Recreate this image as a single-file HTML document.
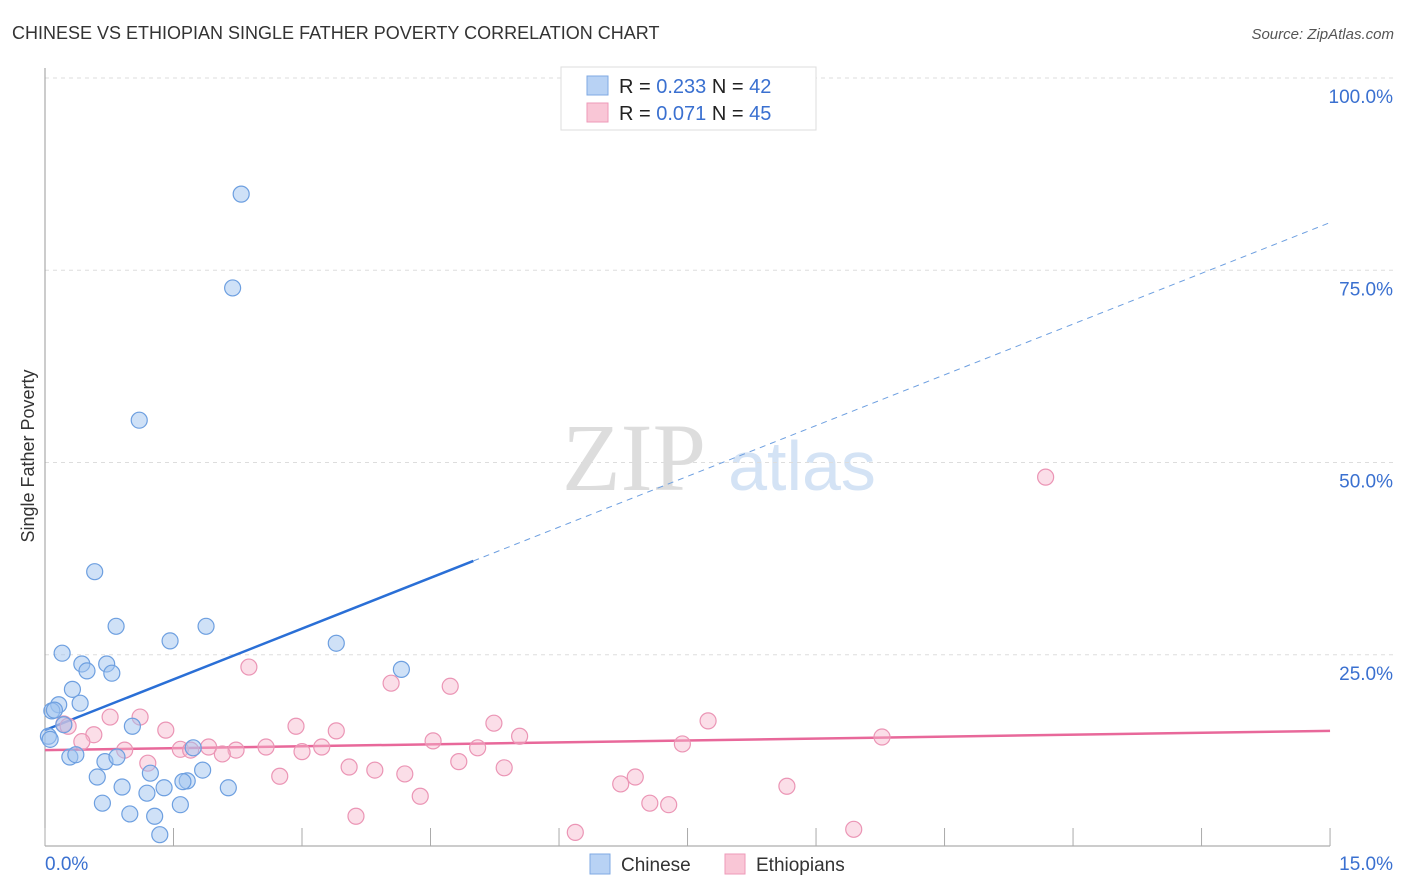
<!DOCTYPE html>
<html><head><meta charset="utf-8"><style>
body{margin:0;background:#fff;font-family:"Liberation Sans",sans-serif}
svg{display:block}
</style></head><body>
<svg id="chart" width="1406" height="892">
<text x="12" y="39" font-size="18" fill="#333">CHINESE VS ETHIOPIAN SINGLE FATHER POVERTY CORRELATION CHART</text>
<text x="1394" y="39" font-size="15" fill="#555" text-anchor="end" font-style="italic">Source: ZipAtlas.com</text>
<g>
<text x="634" y="490" font-size="96" fill="#ddd" font-family="Liberation Serif,serif" text-anchor="middle">ZIP</text>
<text x="802" y="490" font-size="70" fill="#d4e3f5" text-anchor="middle">atlas</text>
</g>
<text transform="translate(34,456) rotate(-90)" font-size="18" fill="#333" text-anchor="middle">Single Father Poverty</text>
<g id="grid"></g><g id="axes"></g><g id="lines"></g><g id="pts"></g>
<g>
<rect x="561" y="67" width="255" height="63" fill="#fff" stroke="#ddd"/>
<rect x="587" y="76" width="21" height="19" fill="#b8d2f4" stroke="#7fa9e3"/>
<rect x="587" y="103" width="21" height="19" fill="#f9c6d6" stroke="#ee9ab8"/>
<text x="619" y="93" font-size="20" fill="#222">R = <tspan fill="#3a70d0">0.233</tspan>   N = <tspan fill="#3a70d0">42</tspan></text>
<text x="619" y="120" font-size="20" fill="#222">R = <tspan fill="#3a70d0">0.071</tspan>   N = <tspan fill="#3a70d0">45</tspan></text>
</g>
<g>
<rect x="590" y="854" width="20" height="20" fill="#b8d2f4" stroke="#7fa9e3"/>
<text x="621" y="871" font-size="19" fill="#333">Chinese</text>
<rect x="725" y="854" width="20" height="20" fill="#f9c6d6" stroke="#ee9ab8"/>
<text x="756" y="871" font-size="19" fill="#333">Ethiopians</text>
</g>
</svg>
<script>
const blueX=[2.29,2.19,1.10,0.58,0.83,1.88,1.46,3.40,0.20,4.16,0.43,0.72,0.49,0.78,0.32,0.16,0.41,0.08,0.11,0.22,1.02,0.04,0.06,1.73,0.29,0.36,0.70,0.84,1.84,1.23,0.61,1.66,1.61,0.90,1.39,1.19,2.14,0.67,1.58,0.99,1.28,1.34];
const blueY=[84.9,72.7,55.5,35.8,28.7,28.7,26.8,26.5,25.2,23.1,23.8,23.8,22.9,22.6,20.5,18.5,18.7,17.7,17.8,15.9,15.7,14.4,14.0,12.9,11.7,12.0,11.1,11.7,10.0,9.6,9.1,8.6,8.5,7.8,7.7,7.0,7.7,5.7,5.5,4.3,4.0,1.6];
const pinkX=[11.68,2.38,4.04,4.73,7.74,5.24,2.93,3.40,9.77,5.54,4.53,0.76,1.11,0.22,0.27,1.41,0.57,0.43,1.58,1.91,0.93,2.23,2.58,3.23,5.05,7.44,3.00,2.07,1.70,4.83,3.55,3.85,1.20,4.20,5.36,2.74,6.89,6.72,8.66,4.38,7.06,7.28,3.63,6.19,9.44];
const pinkY=[48.1,23.4,21.3,20.9,16.4,16.1,15.7,15.1,14.3,14.4,13.8,16.9,16.9,16.0,15.7,15.2,14.6,13.7,12.7,13.0,12.6,12.6,13.0,13.0,12.9,13.4,12.4,12.1,12.6,11.1,10.4,10.0,10.9,9.5,10.3,9.2,9.1,8.2,7.9,6.6,5.7,5.5,4.0,1.9,2.3];
const yTicks=[25,50,75,100];
const yTickLabels=["25.0%","50.0%","75.0%","100.0%"];
const xTicks=[0,1.5,3,4.5,6,7.5,9,10.5,12,13.5,15];
const blueTrend=[15.2,4.4];
const pinkTrend=[12.6,0.167];
const xs=v=>45+v*85.67, ys=v=>847-v*7.69;
const NS="http://www.w3.org/2000/svg";
function mk(p,t,a){const e=document.createElementNS(NS,t);for(const k in a)e.setAttribute(k,a[k]);document.getElementById(p).appendChild(e);return e;}
yTicks.forEach((v,i)=>{
 const l=mk('grid','line',{x1:45,x2:1394,y1:ys(v),y2:ys(v),stroke:'#ddd','stroke-dasharray':'4,4'});
 
 
 const t=mk('grid','text',{x:1393,y:ys(v)+25,'font-size':19,fill:'#3a70d0','text-anchor':'end'});
 t.textContent=yTickLabels[i];
 
 
});
mk('axes','line',{x1:45,x2:45,y1:68,y2:846,stroke:'#999'});
mk('axes','line',{x1:45,x2:1330,y1:846,y2:846,stroke:'#999'});
xTicks.forEach(v=>{const t=mk('axes','line',{x1:xs(v),x2:xs(v),y1:828,y2:846,stroke:'#aaa'});
 
 });
let a=mk('axes','text',{x:45,y:870,'font-size':19,fill:'#3a70d0'});a.textContent='0.0%';


a=mk('axes','text',{x:1393,y:870,'font-size':19,fill:'#3a70d0','text-anchor':'end'});a.textContent='15.0%';


let l=mk('lines','line',{x1:xs(0),y1:ys(blueTrend[0]),x2:xs(5),y2:ys(blueTrend[0]+5*blueTrend[1]),stroke:'#2a6fd6','stroke-width':2.5});


l=mk('lines','line',{x1:xs(5),y1:ys(blueTrend[0]+5*blueTrend[1]),x2:xs(15),y2:ys(blueTrend[0]+15*blueTrend[1]),stroke:'#6d9fe0','stroke-width':1,'stroke-dasharray':'6,5'});


l=mk('lines','line',{x1:xs(0),y1:ys(pinkTrend[0]),x2:xs(15),y2:ys(pinkTrend[0]+15*pinkTrend[1]),stroke:'#e8689a','stroke-width':2.5});


pinkX.forEach((x,i)=>{const c=mk('pts','circle',{cx:xs(x),cy:ys(pinkY[i]),r:8,fill:'rgba(246,182,204,0.45)',stroke:'#eb95b5','stroke-width':1.2});
 
 });
blueX.forEach((x,i)=>{const c=mk('pts','circle',{cx:xs(x),cy:ys(blueY[i]),r:8,fill:'rgba(160,196,240,0.5)',stroke:'#6d9fe0','stroke-width':1.2});
 
 });
</script>
</body></html>
